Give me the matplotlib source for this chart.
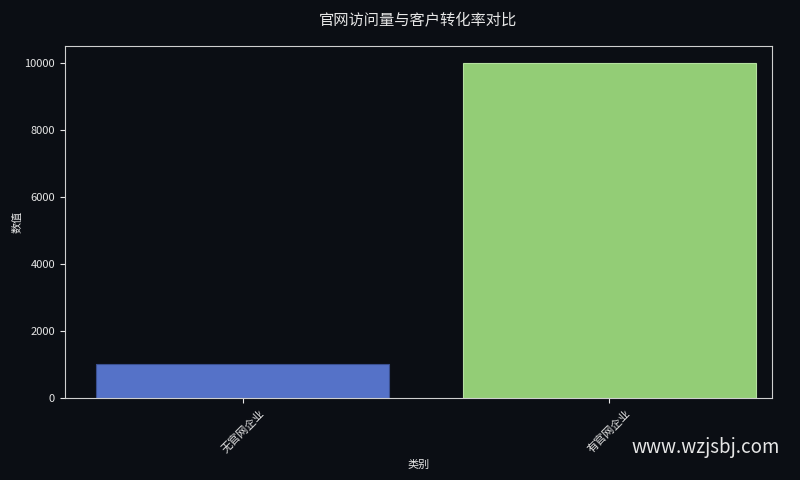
import matplotlib
matplotlib.use("Agg")
import matplotlib.pyplot as plt

plt.rcParams['font.family'] = ['Noto Sans CJK SC', 'DejaVu Sans']

categories = ['无官网企业', '有官网企业']
values = [1000, 10000]
colors = ['#5572c8', '#93cd76']

bg = '#0b0e14'
fg = '#e6e6e6'

fig = plt.figure(figsize=(8, 4.8), dpi=100, facecolor=bg)
ax = fig.add_axes([0.081, 0.171, 0.884, 0.733], facecolor=bg)

x = list(range(len(categories)))
ax.bar(x, values, width=0.8, color=colors, edgecolor=['#3a4f8f', '#b5e0a0'], linewidth=0.8)

ax.set_xlim(-0.486, 1.445)
ax.set_ylim(0, 10500)
ax.set_xticks(x)
ax.set_xticklabels(categories, rotation=45, fontsize=8, color=fg)
ax.set_yticks([0, 2000, 4000, 6000, 8000, 10000])
ax.tick_params(axis='y', labelsize=8, colors=fg)
ax.tick_params(axis='x', colors=fg)
for s in ax.spines.values():
    s.set_color('#cfcfcf')
ax.set_xlabel('类别', fontsize=8, color=fg)
ax.set_ylabel('数值', fontsize=8, color=fg, labelpad=1)
ax.set_title('官网访问量与客户转化率对比', fontsize=11, color=fg, pad=16)

fig.text(0.975, 0.046, 'www.wzjsbj.com', fontsize=13.5, color='#e6e6e6', ha='right', va='bottom',
         family=['Noto Sans CJK SC', 'DejaVu Sans'])

fig.savefig('out.png', dpi=100, facecolor=bg)
